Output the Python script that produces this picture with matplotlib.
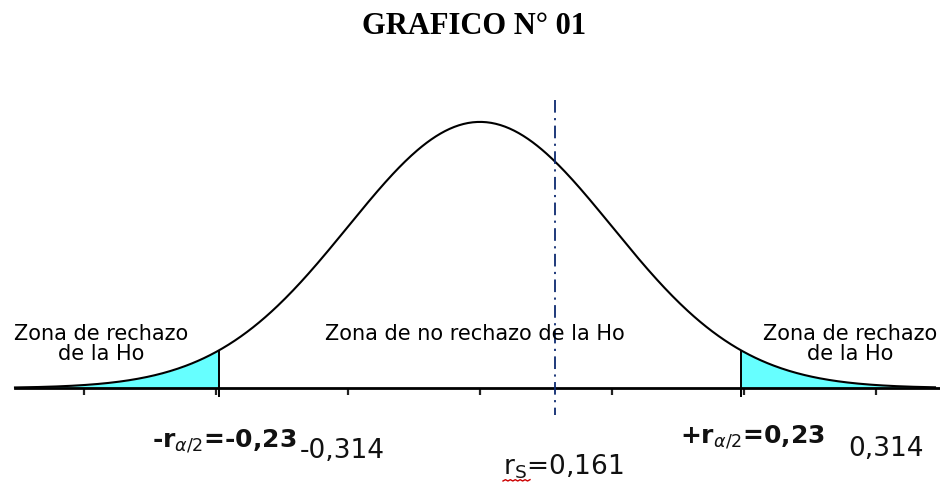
import numpy as np
import matplotlib
matplotlib.use("Agg")
import matplotlib.pyplot as plt

# ---- data ----
title = "GRAFICO N° 01"
tick_values = [-3, -2, -1, 0, 1, 2, 3]       # axis ticks (sigma units)
critical_z = 1.98                             # rejection limits (sigma units)
rs_z = 0.57                                   # observed statistic position
zone_reject = "Zona de rechazo\nde la Ho"
zone_accept = "Zona de no rechazo de la Ho"
lbl_left_crit = r"-r$_{\alpha/2}$=-0,23"
lbl_right_crit = r"+r$_{\alpha/2}$=0,23"
lbl_left_val = "-0,314"
lbl_right_val = "0,314"
lbl_rs = r"r$_\mathrm{S}$=0,161"

W, H = 940, 483
plt.rcParams["mathtext.fontset"] = "dejavusans"
fig = plt.figure(figsize=(W / 100, H / 100), dpi=100)
ax = fig.add_axes([0, 0, 1, 1])

# pixel mapping: center at x=480, sigma=132 px; baseline at y=388, 667 px per pdf unit
cx, sx = 480.0, 132.0
by, sy = 388.0, 667.0
ax.set_xlim(-cx / sx, (W - cx) / sx)
ax.set_ylim(-(H - by) / sy, by / sy)

def pdf(z):
    return np.exp(-z ** 2 / 2) / np.sqrt(2 * np.pi)

z = np.linspace((15 - cx) / sx, (935 - cx) / sx, 600)
ax.plot(z, pdf(z), color="black", lw=1.5, zorder=3)

# rejection areas
zl = np.linspace(z[0], -critical_z, 200)
zr = np.linspace(critical_z, z[-1], 200)
ax.fill_between(zl, 0, pdf(zl), color="#66FFFF", lw=0, zorder=2)
ax.fill_between(zr, 0, pdf(zr), color="#66FFFF", lw=0, zorder=2)
for c in (-critical_z, critical_z):
    ax.plot([c, c], [-0.012, pdf(c)], color="black", lw=1.4, zorder=3)

# r_s line
ax.plot([rs_z, rs_z], [(by - 100) / sy, (by - 415) / sy], color="#0d2a70",
        lw=1.3, ls=(0, (7, 3, 1.2, 3)), zorder=4)

# axis
for s in ("top", "left", "right"):
    ax.spines[s].set_visible(False)
ax.spines["bottom"].set_position(("data", 0))
ax.spines["bottom"].set_bounds((15 - cx) / sx, (W - cx) / sx)
ax.spines["bottom"].set_linewidth(2.0)
ax.set_xticks(tick_values)
ax.set_xticklabels([])
ax.set_yticks([])
ax.tick_params(axis="x", direction="out", length=5, width=1.6, color="#222222")
ax.patch.set_alpha(0)

def px(x, y):
    return x / W, 1 - y / H

# title
fig.text(*px(474, 27), title, ha="center", va="center", fontsize=22,
         fontweight="bold", family="Liberation Serif")

# zone labels
zkw = dict(ha="center", va="center", fontsize=15, family="DejaVu Sans",
           linespacing=1.0)
fig.text(*px(101, 344), zone_reject, **zkw)
fig.text(*px(850, 344), zone_reject, **zkw)
fig.text(*px(475, 334), zone_accept, **zkw)

# bottom labels
fig.text(*px(152, 441), lbl_left_crit, ha="left", va="center", fontsize=18,
         fontweight="bold", family="DejaVu Sans", color="#111111")
fig.text(*px(300, 451), lbl_left_val, ha="left", va="center", fontsize=19,
         family="DejaVu Sans", color="#111111",
         bbox=dict(facecolor="white", edgecolor="none", pad=2))
fig.text(*px(680, 437), lbl_right_crit, ha="left", va="center", fontsize=18,
         fontweight="bold", family="DejaVu Sans", color="#111111")
fig.text(*px(848, 449), lbl_right_val, ha="left", va="center", fontsize=19,
         family="DejaVu Sans", color="#111111")
fig.text(*px(503, 467), lbl_rs, ha="left", va="center", fontsize=19,
         family="DejaVu Sans", color="#111111")
# red spell-check squiggle under r_S
ax.plot(np.linspace((503 - cx) / sx, (530 - cx) / sx, 12),
        -(481 - by) / sy + 0.002 * np.array([0, 1] * 6), color="#cc0000", lw=1)

fig.savefig("out.png", dpi=100)
